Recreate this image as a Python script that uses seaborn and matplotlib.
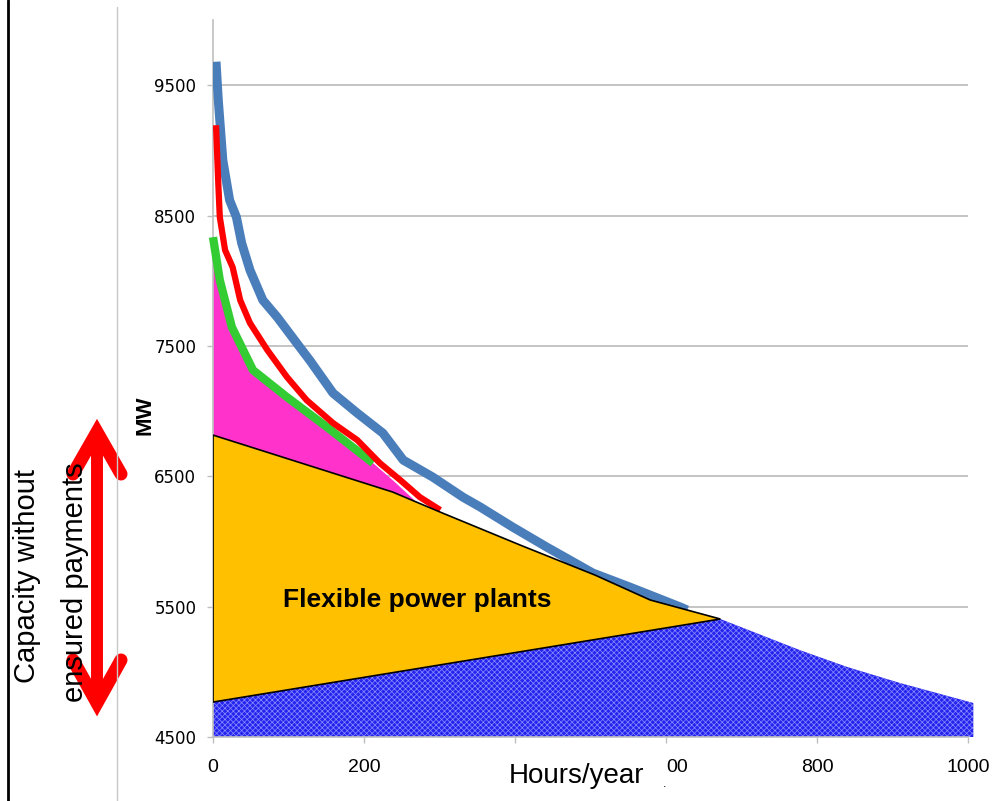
import matplotlib.pyplot as plt
import seaborn as sns
from matplotlib.lines import Line2D

# Load duration curves (hours/year vs MW)
hours_blue = [4, 7, 13, 22, 31, 38, 49, 66, 85, 111, 128, 159, 191, 225, 252, 291,
              331, 354, 397, 442, 503, 552, 619, 628]
mw_blue = [9680, 9385, 8925, 8618, 8488, 8288, 8081, 7851, 7721, 7521, 7391, 7138,
           6985, 6831, 6624, 6494, 6340, 6264, 6110, 5957, 5758, 5650, 5497, 5474]

hours_red = [4, 7, 9, 16, 26, 36, 49, 72, 98, 124, 159, 191, 221, 248, 274, 301]
mw_red = [9193, 8748, 8488, 8235, 8104, 7851, 7675, 7468, 7261, 7084, 6908, 6778,
          6601, 6471, 6340, 6241]

hours_green = [0, 9, 25, 53, 98, 151, 212]
mw_green = [8334, 8005, 7644, 7314, 7107, 6877, 6601]

# Areas
hours_magenta = [0, 0, 9, 25, 53, 98, 151, 212, 240, 268, 238]
mw_magenta = [6816, 8200, 8005, 7644, 7314, 7107, 6877, 6601, 6460, 6310, 6379]

hours_flex = [0, 238, 301, 407, 506, 579, 672, 0]
mw_flex = [6816, 6379, 6225, 5972, 5742, 5551, 5405, 4768]

hours_base = [0, 672, 777, 840, 910, 1007]
mw_base = [4768, 5405, 5167, 5037, 4914, 4761]
mw_floor = 4500

x_ticks = [0, 200, 400, 600, 800, 1000]
x_tick_labels = ['0', '200', '', '00', '800', '1000']  # 400/600 hidden behind the axis title
y_ticks = [4500, 5500, 6500, 7500, 8500, 9500]

W, H = 995, 801


def px(x, y):
    return x / W, 1 - y / H


sns.set_theme(style="white")
plt.rcParams['font.family'] = ['DejaVu Sans']
plt.rcParams['hatch.linewidth'] = 0.5
plt.rcParams['text.color'] = 'black'
sans = ['Liberation Sans Narrow', 'Liberation Sans']

fig = plt.figure(figsize=(W / 100, H / 100), dpi=100)
ax = fig.add_axes([213 / W, 1 - 737 / H, (968 - 213) / W, (737 - 20) / H])

ax.set_xlim(0, 1000)
ax.set_ylim(4500, 10000)
ax.set_yticks(y_ticks)
ax.set_xticks(x_ticks, x_tick_labels)
ax.yaxis.grid(True, color='#bfbfbf', linewidth=1.3, zorder=0)
ax.set_axisbelow(True)
for s in ['top', 'right']:
    ax.spines[s].set_visible(False)
for s in ['left', 'bottom']:
    ax.spines[s].set_color('#bfbfbf')
    ax.spines[s].set_linewidth(1.2)
ax.tick_params(axis='y', length=4, color='#bfbfbf', width=1, pad=8, labelsize=12,
               labelcolor='black', left=True)
ax.tick_params(axis='x', length=4, color='#bfbfbf', width=1, pad=12, labelsize=14,
               labelcolor='black', bottom=True)
for lab in ax.get_xticklabels():
    lab.set_family(sans)
ax.get_xticklabels()[3].set_ha('left')

# base load area (hatched blue)
ax.fill_between(hours_base, mw_floor, mw_base, facecolor='#2424ee', edgecolor='#8c8cff',
                hatch='xxxxxx', linewidth=0, zorder=1, clip_on=False)

# magenta area
ax.fill(hours_magenta, mw_magenta, color='#ff33cc', linewidth=0, zorder=2, clip_on=False)

# curves
sns.lineplot(x=hours_green, y=mw_green, ax=ax, color='#33cc33', linewidth=6, sort=False,
             estimator=None, zorder=3, clip_on=False, solid_capstyle='butt')
sns.lineplot(x=hours_blue, y=mw_blue, ax=ax, color='#4a7ebb', linewidth=6.5, sort=False,
             estimator=None, zorder=3, solid_capstyle='butt')
sns.lineplot(x=hours_red, y=mw_red, ax=ax, color='#ff0000', linewidth=4.5, sort=False,
             estimator=None, zorder=4, solid_capstyle='butt')

# flexible power plants
ax.fill(hours_flex, mw_flex, facecolor='#ffc000', edgecolor='black', linewidth=1.2, zorder=5)
ax.text(270, 5551, 'Flexible power plants', ha='center', va='center', color='black',
        fontsize=19, fontweight='bold', family=['Liberation Sans'], zorder=6)

ax.set_xlabel('')
ax.set_ylabel('')

# axis titles
fig.text(*px(145, 415), 'MW', rotation=90, ha='center', va='center', fontsize=16,
         fontweight='bold', family=['Liberation Sans'])
fig.text(*px(577, 776), 'Hours/year', ha='center', va='center', fontsize=20, family=sans)
fig.text(*px(665, 790), '.', ha='center', va='bottom', fontsize=9, family=sans)

# left annotation
fig.text(*px(27, 576), 'Capacity without', rotation=90, ha='center', va='center',
         fontsize=21, family=sans)
fig.text(*px(75, 582), 'ensured payments', rotation=90, ha='center', va='center',
         fontsize=21, family=sans)

# red double arrow
red = '#ff0000'
fig.add_artist(Line2D([97 / W, 97 / W], [1 - 435 / H, 1 - 700 / H], color=red,
                      linewidth=8.6, transform=fig.transFigure, solid_capstyle='butt'))
for tip, base in [(432, 474), (703, 660)]:
    xs = [73 / W, 97 / W, 121 / W]
    ys = [1 - base / H, 1 - tip / H, 1 - base / H]
    fig.add_artist(Line2D(xs, ys, color=red, linewidth=9.4, transform=fig.transFigure,
                          solid_capstyle='round', solid_joinstyle='miter'))

# frame lines
fig.add_artist(Line2D([8 / W, 8 / W], [0, 1], color='black', linewidth=2,
                      transform=fig.transFigure))
fig.add_artist(Line2D([117 / W, 117 / W], [0, 1 - 7 / H], color='#c8c8c8', linewidth=1,
                      transform=fig.transFigure))

fig.savefig('out.png', dpi=100)
